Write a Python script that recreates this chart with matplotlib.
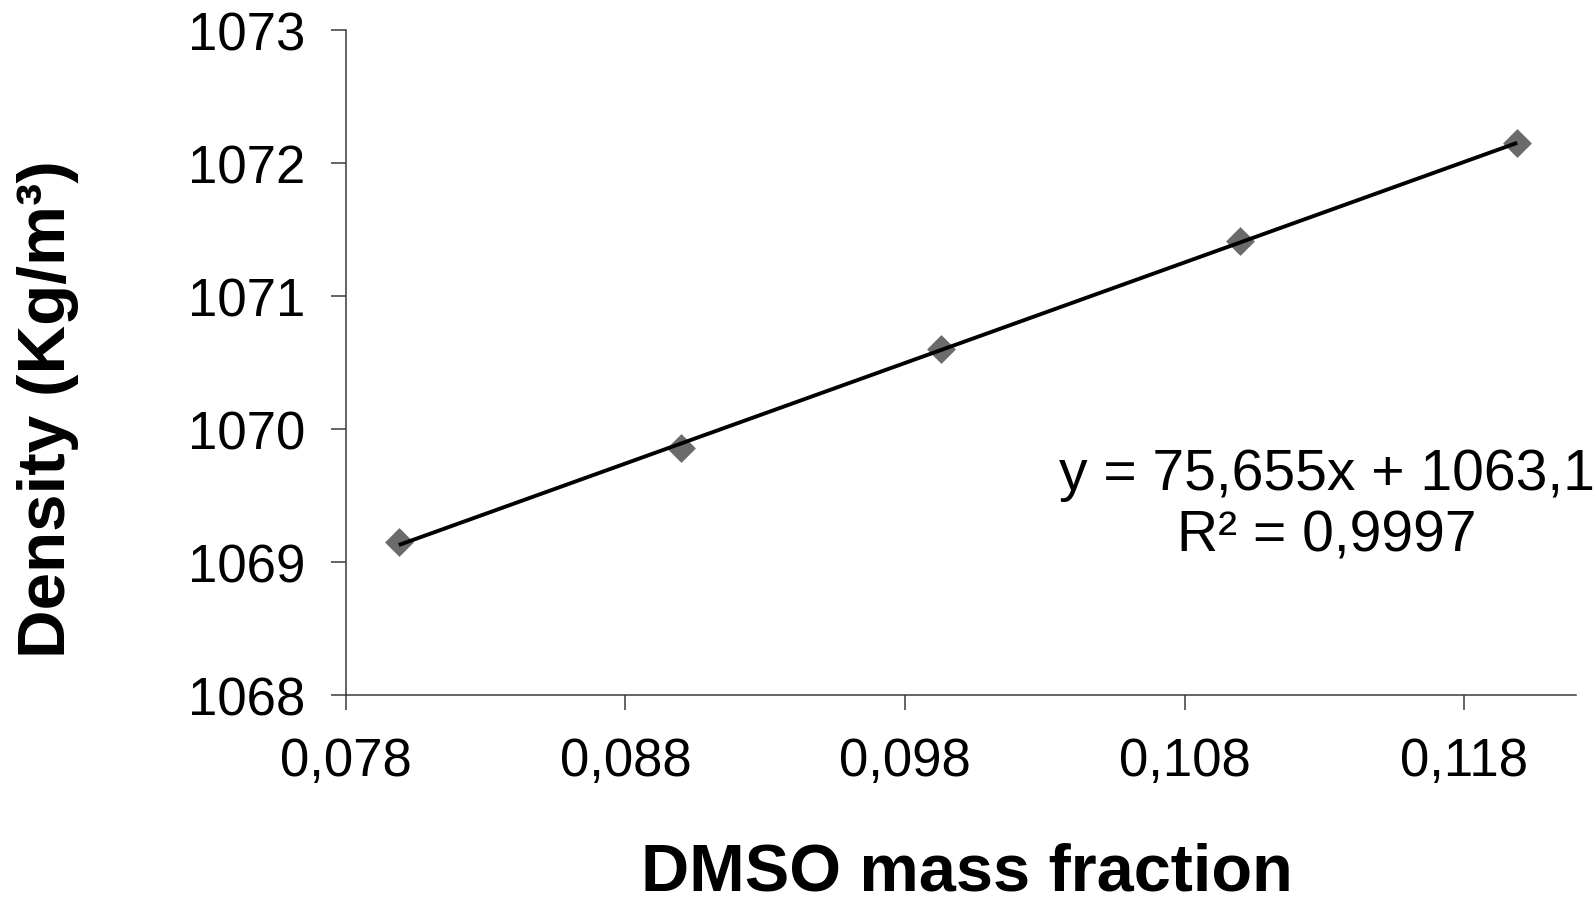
import matplotlib
matplotlib.use("Agg")
import matplotlib.pyplot as plt
import numpy as np

plt.rcParams['font.family'] = ['Liberation Sans', 'DejaVu Sans']

# Data
dmso_fraction = [0.0799, 0.0900, 0.0993, 0.1100, 0.1199]
density = [1069.146, 1069.853, 1070.599, 1071.414, 1072.146]
x_ticks = [0.078, 0.088, 0.098, 0.108, 0.118]
x_tick_labels = ['0,078', '0,088', '0,098', '0,108', '0,118']
y_ticks = [1068, 1069, 1070, 1071, 1072, 1073]
y_tick_labels = ['1068', '1069', '1070', '1071', '1072', '1073']
equation_text = "y = 75,655x + 1063,1\nR² = 0,9997"

fig = plt.figure(figsize=(15.94, 9.04), dpi=100)
ax = fig.add_axes([345.7/1594, 1 - 695.7/904, (1576 - 345.7)/1594, (695.7 - 30.7)/904])

ax.scatter(dmso_fraction, density, marker='D', s=200, color='#6b6b6b',
           edgecolors='#6b6b6b', linewidths=0.5, zorder=2)

coef = np.polyfit(dmso_fraction, density, 1)
xs = np.array([dmso_fraction[0], dmso_fraction[-1]])
ax.plot(xs, np.polyval(coef, xs), color='black', lw=2.8, zorder=3,
        solid_capstyle='butt')

ax.set_xlim(0.078, 0.122)
ax.set_ylim(1068, 1073)
ax.set_xticks(x_ticks)
ax.set_xticklabels(x_tick_labels)
ax.set_yticks(y_ticks)
ax.set_yticklabels(y_tick_labels)

for s in ['top', 'right']:
    ax.spines[s].set_visible(False)
for s in ['left', 'bottom']:
    ax.spines[s].set_color('#3a3a3a')
    ax.spines[s].set_linewidth(1.1)

ax.tick_params(axis='both', direction='out', length=11, width=1.1,
               color='#3a3a3a', labelsize=38, labelcolor='black')
ax.tick_params(axis='y', pad=18)
ax.tick_params(axis='x', pad=19)

ax.text(1327/1594, 1 - 506/904, equation_text, transform=fig.transFigure,
        ha='center', va='center', fontsize=41, linespacing=1.18)

fig.text(48/1594, 1 - 409/904, "Density (Kg/m³)", rotation=90,
         ha='center', va='center', fontsize=48.5, fontweight='bold')
fig.text(967/1594, 1 - 874/904, "DMSO mass fraction",
         ha='center', va='center', fontsize=48, fontweight='bold')

fig.savefig('out.png', dpi=100)
